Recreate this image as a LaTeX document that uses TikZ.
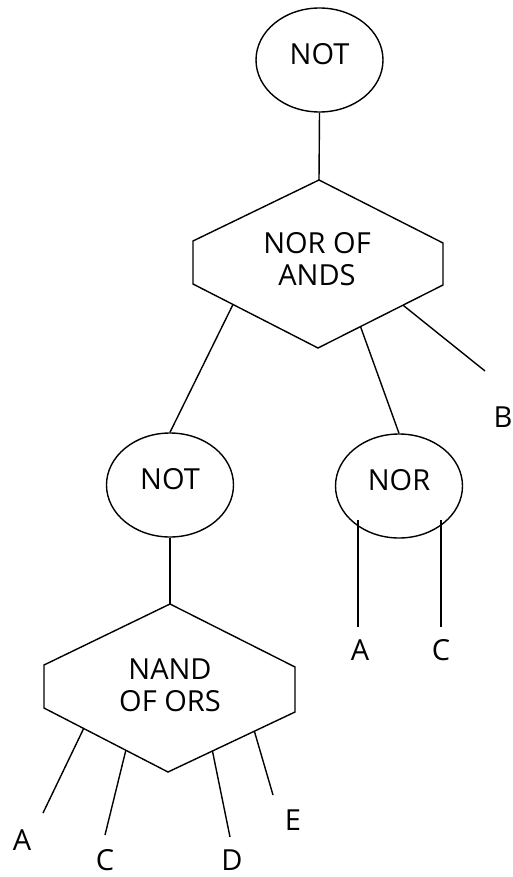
\documentclass[tikz,border=0pt]{standalone}
\usepackage{fontspec}
\setmainfont{Open Sans}
\usetikzlibrary{calc,shapes.geometric}

\tikzset{
  gatefont/.style={font=\fontsize{29}{32}\selectfont},
  oval/.style={draw, ellipse, line width=1.4pt, inner sep=0pt,
    minimum width=127pt, minimum height=104pt, text depth=12pt, gatefont},
  hexline/.style={draw, line width=1.4pt, line join=miter},
  wire/.style={line width=1.4pt},
  hextext/.style={align=center, gatefont},
  leaf/.style={gatefont, inner sep=0pt},
}

\begin{document}
\begin{tikzpicture}[x=1pt, y=-1pt]
  \useasboundingbox (0,0) rectangle (513,877);

  % unary gates
  \node[oval] (not1) at (319.5,60) {NOT};
  \node[oval] (not2) at (170,485) {NOT};
  \node[oval] (nor)  at (399,486) {NOR};

  % upper hexagon: NOR of ANDs
  \coordinate (h1t)  at (319,180);
  \coordinate (h1lt) at (193,241);
  \coordinate (h1lb) at (193,284);
  \coordinate (h1b)  at (318,348);
  \coordinate (h1rb) at (443,285);
  \coordinate (h1rt) at (443,243);
  \draw[hexline] (h1t) -- (h1lt) -- (h1lb) -- (h1b) -- (h1rb) -- (h1rt) -- cycle;
  \node[hextext] (h1) at (317,259) {NOR OF\\ANDS};

  % lower hexagon: NAND of ORs
  \coordinate (h2t)  at (170,604);
  \coordinate (h2lt) at (44,665);
  \coordinate (h2lb) at (44,708);
  \coordinate (h2b)  at (168,772);
  \coordinate (h2rb) at (295,712);
  \coordinate (h2rt) at (295,667);
  \draw[hexline] (h2t) -- (h2lt) -- (h2lb) -- (h2b) -- (h2rb) -- (h2rt) -- cycle;
  \node[hextext] (h2) at (170,685) {NAND\\OF ORS};

  % attachment points on the hexagon edges
  \coordinate (h1p1) at ($(h1lb)!0.32!(h1b)$);
  \coordinate (h1p2) at ($(h1b)!0.34!(h1rb)$);
  \coordinate (h1p3) at ($(h1b)!0.68!(h1rb)$);
  \coordinate (h2p1) at ($(h2lb)!0.32!(h2b)$);
  \coordinate (h2p2) at ($(h2lb)!0.66!(h2b)$);
  \coordinate (h2p3) at ($(h2b)!0.35!(h2rb)$);
  \coordinate (h2p4) at ($(h2b)!0.68!(h2rb)$);

  % free wire ends
  \coordinate (eb)  at (485,371);
  \coordinate (ea1) at (43,813);
  \coordinate (ec1) at (105,835);
  \coordinate (ed)  at (230,837);
  \coordinate (ee)  at (273,795);
  \coordinate (nora) at (358,520);
  \coordinate (norc) at (441,520);
  \coordinate (ea2) at (358,627);
  \coordinate (ec2) at (441,627);

  % input labels
  \node[leaf] (lb)  at (503,417) {B};
  \node[leaf] (la1) at (22,840)  {A};
  \node[leaf] (lc1) at (105,860) {C};
  \node[leaf] (ld)  at (232,860) {D};
  \node[leaf] (le)  at (293,820) {E};
  \node[leaf] (la2) at (360,650) {A};
  \node[leaf] (lc2) at (441,650) {C};

  % connections
  \draw[wire] (not1.south) -- (h1t);
  \draw[wire] (h1p1) -- (not2.north);
  \draw[wire] (h1p2) -- (nor.north);
  \draw[wire] (h1p3) -- (eb);
  \draw[wire] (not2.south) -- (h2t);
  \draw[wire] (h2p1) -- (ea1);
  \draw[wire] (h2p2) -- (ec1);
  \draw[wire] (h2p3) -- (ed);
  \draw[wire] (h2p4) -- (ee);
  \draw[wire] (nora) -- (ea2);
  \draw[wire] (norc) -- (ec2);
\end{tikzpicture}
\end{document}
